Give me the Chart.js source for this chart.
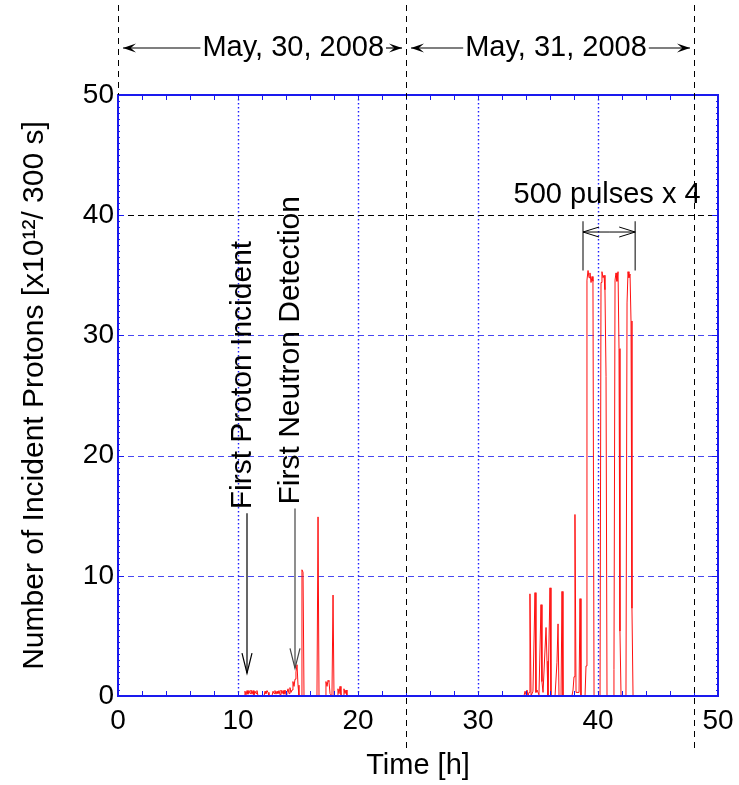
<!DOCTYPE html>
<html lang="en">
<head>
    <meta charset="UTF-8">
    <title>Incident Protons</title>
    <script src="https://cdn.jsdelivr.net/npm/chart.js"></script>
    <style>
        body {
            margin: 0;
            background: white;
        }
    </style>
</head>
<body>
    <canvas id="chart" width="739" height="785"></canvas>

    <script>
        // time [h] and incident protons [x10^12 / 300 s]
        const hours = [
            0, 10.50, 10.58, 10.67, 10.75, 10.83, 10.92, 11.00, 11.08, 11.17, 11.25, 11.33, 11.42, 11.50, 11.58, 11.67,
            12.17, 12.25, 12.33, 12.42, 12.50, 12.58,
            12.83, 12.92, 13.00, 13.08, 13.17, 13.25, 13.33, 13.42, 13.50, 13.58, 13.67, 13.75, 13.83, 13.92, 14.00,
            14.08, 14.17, 14.25, 14.33, 14.42, 14.50, 14.58, 14.67, 14.75, 14.83, 14.92, 15.00, 15.08,
            15.25, 15.33, 15.42, 15.50, 16.58, 16.67, 16.75,
            17.25, 17.33, 17.42, 17.50, 17.58, 17.67, 17.83, 17.92, 18.00,
            18.25, 18.33, 18.42, 18.50, 18.58, 18.75, 18.83, 18.92, 19.00, 19.08,
            33.83, 33.92, 34.00, 34.08, 34.17, 34.25, 34.33, 34.42, 34.58, 34.75, 34.83, 34.92, 35.08,
            35.25, 35.33, 35.42, 35.67, 35.75, 35.83, 36.00, 36.08, 36.42, 36.58, 36.67, 36.75, 36.92, 37.00, 37.08,
            37.83, 37.92, 38.00, 38.08, 38.17, 38.42, 38.50, 38.58,
            38.92, 39.00, 39.08, 39.17, 39.25, 39.33, 39.42, 39.50, 39.58, 39.67,
            40.17, 40.25, 40.33, 40.42, 40.50, 40.58, 40.67, 40.75,
            41.25, 41.33, 41.42, 41.50, 41.58, 41.67, 41.75, 41.83, 41.92,
            42.33, 42.42, 42.50, 42.58, 42.67, 42.75, 42.83, 42.92,
            50
        ];
        const protons = [
            0, 0, 0.4, 0.1, 0.45, 0.15, 0.45, 0.2, 0.5, 0.15, 0.45, 0.1, 0.4, 0.2, 0.45, 0,
            0, 0.4, 0.2, 0.45, 0.3, 0,
            0, 0.4, 0.2, 0.45, 0.15, 0.4, 0.2, 0.45, 0.1, 0.5, 0.2, 0.45, 0.15, 0.5, 0.1,
            0.3, 0.6, 0.2, 0.7, 0.3, 0.5, 1.2, 0.8, 1.4, 2.0, 2.6, 0.9, 0,
            0, 10.5, 10.3, 0, 0, 14.9, 0,
            0, 1.2, 0.8, 1.3, 1.2, 0.2, 0, 8.4, 0,
            0, 0.6, 0.2, 0.8, 0.1, 0, 0.6, 0.2, 0.5, 0,
            0, 0.4, 0.1, 0.5, 0, 0.3, 8.5, 0, 0.4, 8.6, 0.3, 0.5, 0.1,
            7.6, 1.2, 0.3, 5.7, 2.9, 0, 9.0, 0, 0, 2.8, 6.0, 0, 0, 8.7, 0,
            0, 0.5, 1.6, 15.1, 0.3, 0.3, 8.1, 0,
            0, 2.5, 34.6, 35.4, 34.8, 35.2, 34.4, 34.9, 34.5, 0,
            0, 34.4, 35.3, 34.8, 35.0, 33.8, 26.6, 0,
            0, 2.2, 34.6, 35.2, 34.5, 35.3, 28.9, 5.4, 0,
            0, 32.7, 35.3, 34.8, 35.1, 31.2, 7.3, 0,
            0
        ];

        const xTicks = [0, 10, 20, 30, 40, 50];
        const yTicks = [0, 10, 20, 30, 40, 50];
        const dayBounds = [0, 24, 48];
        const dayLabels = ['May, 30, 2008', 'May, 31, 2008'];

        const FONT = '"Liberation Sans", Arial, sans-serif';
        const BLUE = '#1a1aee';

        function line(ctx, x1, y1, x2, y2) {
            ctx.beginPath();
            ctx.moveTo(x1, y1);
            ctx.lineTo(x2, y2);
            ctx.stroke();
        }

        // arrow pointing at (x2, y2)
        function arrow(ctx, x1, y1, x2, y2, len, half, filled) {
            line(ctx, x1, y1, x2, y2);
            const d = Math.hypot(x2 - x1, y2 - y1);
            const ux = (x2 - x1) / d, uy = (y2 - y1) / d;
            const bx = x2 - ux * len, by = y2 - uy * len;
            ctx.beginPath();
            ctx.moveTo(bx - uy * half, by + ux * half);
            ctx.lineTo(x2, y2);
            ctx.lineTo(bx + uy * half, by - ux * half);
            if (filled) {
                ctx.lineTo(x2 - ux * len * 0.6, y2 - uy * len * 0.6);
                ctx.closePath();
                ctx.fill();
            } else {
                ctx.stroke();
            }
        }

        const decor = {
            id: 'decor',
            beforeDatasetsDraw(chart) {
                const { ctx, chartArea: a, scales: { x, y } } = chart;
                ctx.save();

                // vertical dotted grid
                ctx.strokeStyle = '#1f1fff';
                ctx.lineWidth = 1.4;
                ctx.setLineDash([1.5, 2.5]);
                xTicks.slice(1, -1).forEach(v => {
                    const px = Math.round(x.getPixelForValue(v)) + 0.5;
                    line(ctx, px, a.top, px, a.bottom);
                });

                // horizontal dashed grid
                ctx.lineWidth = 1;
                ctx.setLineDash([6, 4]);
                yTicks.slice(1, -1).forEach(v => {
                    const py = Math.round(y.getPixelForValue(v)) + 0.5;
                    ctx.strokeStyle = v === 40 ? '#000' : 'rgba(40,40,240,0.85)';
                    line(ctx, a.left, py, a.right, py);
                });
                ctx.restore();
            },
            afterDatasetsDraw(chart) {
                const { ctx, chartArea: a, scales: { x, y } } = chart;
                ctx.save();

                // minor ticks
                ctx.strokeStyle = BLUE;
                ctx.lineWidth = 1;
                for (let v = 2; v < 50; v += 2) {
                    const px = Math.round(x.getPixelForValue(v)) + 0.5;
                    line(ctx, px, a.bottom, px, a.bottom - 5);
                    line(ctx, px, a.top, px, a.top + 5);
                }
                for (let v = 0.5; v < 50; v += 0.5) {
                    const py = Math.round(y.getPixelForValue(v)) + 0.5;
                    line(ctx, a.left, py, a.left + 2, py);
                    line(ctx, a.right, py, a.right - 2, py);
                }
                yTicks.slice(1, -1).forEach(v => {
                    const py = Math.round(y.getPixelForValue(v)) + 0.5;
                    line(ctx, a.left, py, a.left + 6, py);
                    line(ctx, a.right, py, a.right - 6, py);
                });

                // frame
                ctx.lineWidth = 2;
                ctx.strokeRect(a.left, a.top, a.right - a.left, a.bottom - a.top);
                ctx.restore();
            },
            afterDraw(chart) {
                const { ctx, chartArea: a, scales: { x, y } } = chart;
                ctx.save();

                // day separators
                ctx.strokeStyle = '#000';
                ctx.lineWidth = 1;
                ctx.setLineDash([6, 5]);
                dayBounds.forEach(v => {
                    const px = Math.round(x.getPixelForValue(v)) + 0.5;
                    line(ctx, px, 5, px, v === 0 ? a.top : 752);
                });
                ctx.setLineDash([]);

                ctx.fillStyle = '#000';
                ctx.font = '29px ' + FONT;
                ctx.textBaseline = 'middle';

                // date labels with arrows
                const ty = 48;
                const centers = [14.6, 36.5];
                dayLabels.forEach((txt, i) => {
                    const cx = x.getPixelForValue(centers[i]);
                    const w = ctx.measureText(txt).width;
                    ctx.textAlign = 'center';
                    ctx.fillText(txt, cx, ty);
                    const x0 = x.getPixelForValue(dayBounds[i]);
                    const x1 = x.getPixelForValue(dayBounds[i + 1]);
                    ctx.lineWidth = 1.2;
                    arrow(ctx, cx - w / 2 - 2, ty, x0 + 5, ty, 13, 4.5, true);
                    arrow(ctx, cx + w / 2 + 2, ty, x1 - 4, ty, 13, 4.5, true);
                });

                // pulse bracket
                const bl = x.getPixelForValue(38.75), br = x.getPixelForValue(43.1);
                const bt = y.getPixelForValue(39.5), bb = y.getPixelForValue(35.4);
                const by = y.getPixelForValue(38.6);
                ctx.strokeStyle = '#555';
                ctx.lineWidth = 1.5;
                line(ctx, bl, bt, bl, bb);
                line(ctx, br, bt, br, bb);
                ctx.strokeStyle = '#000';
                ctx.lineWidth = 1;
                const bm = (bl + br) / 2;
                arrow(ctx, bm, by, bl, by, 16, 5, false);
                arrow(ctx, bm, by, br, by, 16, 5, false);
                ctx.textAlign = 'center';
                ctx.fillText('500 pulses x 4', (bl + br) / 2 - 2, y.getPixelForValue(41.7));

                // event markers
                const events = [
                    { text: 'First Proton Incident', tx: 10.4, ax: 10.75, top: 15.2, tip: 1.9, color: '#000' },
                    { text: 'First Neutron Detection', tx: 14.4, ax: 14.75, top: 15.6, tip: 2.3, color: '#444' }
                ];
                ctx.font = '30px ' + FONT;
                events.forEach(ev => {
                    const px = x.getPixelForValue(ev.ax);
                    ctx.strokeStyle = ev.color;
                    ctx.lineWidth = 1.2;
                    arrow(ctx, px, y.getPixelForValue(ev.top), px, y.getPixelForValue(ev.tip), 20, 5, false);
                    ctx.save();
                    ctx.translate(x.getPixelForValue(ev.tx), y.getPixelForValue(ev.top) - 4);
                    ctx.rotate(-Math.PI / 2);
                    ctx.textAlign = 'left';
                    ctx.fillText(ev.text, 0, 0);
                    ctx.restore();
                });

                ctx.restore();
            }
        };

        const points = hours.map((h, i) => ({ x: h, y: protons[i] }));

        new Chart(document.getElementById('chart'), {
            type: 'line',
            data: {
                datasets: [{
                    data: points,
                    borderColor: '#ff1010',
                    borderWidth: 1,
                    pointRadius: 0,
                    tension: 0,
                    fill: false
                }]
            },
            options: {
                responsive: false,
                animation: false,
                layout: { padding: { top: 95, right: 21, left: 0, bottom: 0 } },
                plugins: { legend: { display: false }, tooltip: { enabled: false } },
                scales: {
                    x: {
                        type: 'linear',
                        min: 0,
                        max: 50,
                        afterBuildTicks: s => { s.ticks = xTicks.map(v => ({ value: v })); },
                        afterFit: s => { s.height = 89; s.paddingLeft = 0; s.paddingRight = 0; },
                        ticks: { color: '#000', font: { family: FONT, size: 28 }, padding: 8, maxRotation: 0 },
                        grid: { display: false, drawTicks: false },
                        border: { display: false },
                        title: {
                            display: true, text: 'Time [h]', color: '#000',
                            font: { family: FONT, size: 29 }, padding: { top: 0, bottom: 2 }
                        }
                    },
                    y: {
                        min: 0,
                        max: 50,
                        afterBuildTicks: s => { s.ticks = yTicks.map(v => ({ value: v })); },
                        afterFit: s => { s.width = 118; },
                        ticks: { color: '#000', font: { family: FONT, size: 28 }, padding: 4 },
                        grid: { display: false, drawTicks: false },
                        border: { display: false },
                        title: {
                            display: true, text: 'Number of Incident Protons [x10¹²/ 300 s]', color: '#000',
                            font: { family: FONT, size: 30 }, padding: { top: 17 }
                        }
                    }
                }
            },
            plugins: [decor]
        });
    </script>
</body>
</html>
